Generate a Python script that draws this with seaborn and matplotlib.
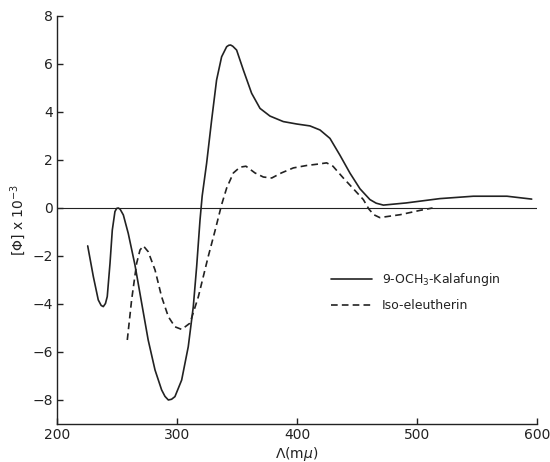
import matplotlib
matplotlib.use("Agg")
import matplotlib.pyplot as plt
import seaborn as sns
import pandas as pd

# 9-OCH3-Kalafungin (solid)
kal_wl = [225.6, 230.3, 234.4, 236.8, 238.6, 240.4, 241.9, 244.2, 246.1, 248.3, 249.7,
          251.1, 252.6, 255.3, 259.4,
          265.0, 270.6, 276.0, 281.7, 287.2, 290.0, 292.8, 295.5, 298.3, 303.9, 309.4,
          313.6, 316.4, 319.2, 321.0, 324.7, 328.9, 333.0, 337.2, 341.4, 343.2, 344.7,
          346.5, 349.7, 355.3, 362.2,
          369.2, 377.5, 388.6, 399.7, 410.8, 419.2, 427.5, 435.8, 444.2, 452.5, 460.8,
          466.0, 472.0, 491.0, 519.0, 547.0, 575.0, 595.6]
kal_val = [-1.58, -2.86, -3.83, -4.06, -4.11, -3.98, -3.69, -2.30, -0.92, -0.15, -0.02,
           0.0, -0.05, -0.29, -1.06,
           -2.38, -3.97, -5.50, -6.75, -7.58, -7.85, -8.0, -7.97, -7.86, -7.17, -5.78,
           -4.11, -2.44, -0.50, 0.50, 1.86, 3.67, 5.33, 6.30, 6.72, 6.78, 6.79,
           6.74, 6.58, 5.75, 4.78,
           4.15, 3.83, 3.60, 3.50, 3.42, 3.25, 2.90, 2.20, 1.45, 0.80, 0.35,
           0.20, 0.12, 0.21, 0.39, 0.49, 0.49, 0.37]

# Iso-eleutherin (dashed)
iso_wl = [258.6, 262.2, 266.4, 269.2, 272.0, 276.0, 281.7, 287.2, 292.8, 298.3, 303.9,
          310.8, 317.8, 326.0, 331.7, 337.2, 341.4, 347.0, 352.5, 357.5, 365.0, 372.0,
          379.0, 387.0, 397.0, 408.0, 417.8, 424.7, 430.0, 438.6, 447.0, 455.3, 460.0,
          464.0, 469.0, 486.0, 502.5, 513.0]
iso_val = [-5.5, -3.83, -2.30, -1.75, -1.58, -1.82, -2.58, -3.70, -4.53, -4.95, -5.06,
           -4.80, -3.70, -2.03, -0.95, 0.14, 0.83, 1.46, 1.70, 1.74, 1.46, 1.29,
           1.25, 1.46, 1.67, 1.77, 1.83, 1.88, 1.74, 1.25, 0.80, 0.35, -0.05,
           -0.28, -0.40, -0.28, -0.10, 0.0]

x_ticks = [200, 300, 400, 500, 600]
y_ticks = [-8, -6, -4, -2, 0, 2, 4, 6, 8]

sns.set_theme(style="ticks")
plt.rcParams['font.family'] = ['DejaVu Sans']

fig = plt.figure(figsize=(5.5, 4.62), dpi=100)
ax = fig.add_axes([0.1036, 0.0823, 0.8727, 0.8831])

col = "#222222"
kal = pd.DataFrame({"wl": kal_wl, "val": kal_val})
iso = pd.DataFrame({"wl": iso_wl, "val": iso_val})

ax.axhline(0, color=col, lw=0.8, zorder=1)
sns.lineplot(data=kal, x="wl", y="val", ax=ax, color=col, lw=1.2, sort=False,
             estimator=None, label="9-OCH$_3$-Kalafungin")
sns.lineplot(data=iso, x="wl", y="val", ax=ax, color=col, lw=1.2, sort=False,
             estimator=None, linestyle=(0, (4, 2.5)), label="Iso-eleutherin")

ax.set_xlim(200, 600)
ax.set_ylim(-9, 8)
ax.set_xticks(x_ticks)
ax.set_yticks(y_ticks)
ax.set_xticklabels([str(v) for v in x_ticks])
ax.set_yticklabels([("\u2212" + str(-v)) if v < 0 else str(v) for v in y_ticks])
ax.tick_params(direction="in", length=4, width=1, colors=col, labelsize=10, pad=3)

for s in ["top", "right"]:
    ax.spines[s].set_visible(False)
for s in ["left", "bottom"]:
    ax.spines[s].set_color(col)
    ax.spines[s].set_linewidth(1.0)

ax.set_xlabel("$\\Lambda$(m$\\mu$)", fontsize=10, color=col)
ax.set_ylabel("[$\\Phi$] x 10$^{-3}$", fontsize=10, color=col)
ax.xaxis.set_label_coords(0.5, -0.051)
ax.yaxis.set_label_coords(-0.081, 0.5)
ax.xaxis.label.set_va("top")
ax.yaxis.label.set_va("center")

leg = ax.legend(loc="upper left", bbox_to_anchor=(0.57, 0.375), frameon=False,
                handlelength=3.3, fontsize=9, borderaxespad=0, borderpad=0,
                labelspacing=0.9, handletextpad=0.8)
for t in leg.get_texts():
    t.set_color(col)

fig.savefig("out.png", dpi=100, facecolor="white")
